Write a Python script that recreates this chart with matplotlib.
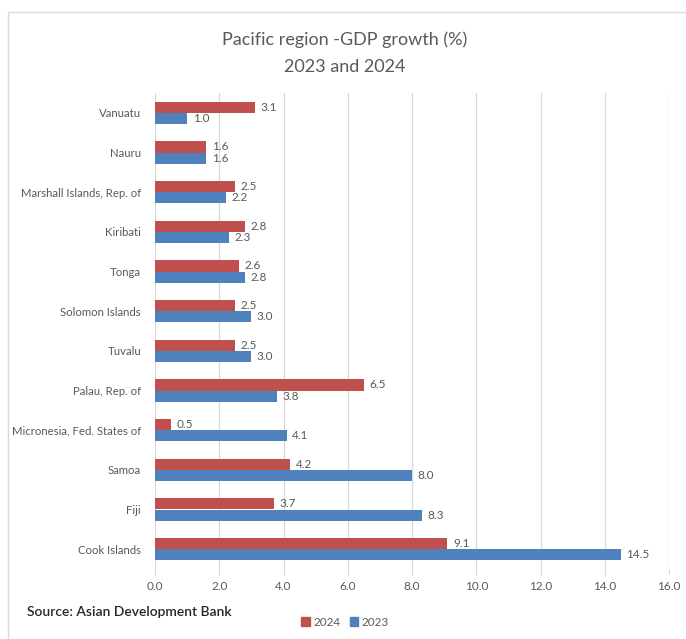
import matplotlib
matplotlib.use("Agg")
import matplotlib.pyplot as plt
from matplotlib.patches import Rectangle, Patch
import numpy as np

plt.rcParams['font.family'] = ['Lato', 'DejaVu Sans']

countries = ["Vanuatu", "Nauru", "Marshall Islands, Rep. of", "Kiribati", "Tonga",
             "Solomon Islands", "Tuvalu", "Palau, Rep. of", "Micronesia, Fed. States of",
             "Samoa", "Fiji", "Cook Islands"]
gdp_2024 = [3.1, 1.6, 2.5, 2.8, 2.6, 2.5, 2.5, 6.5, 0.5, 4.2, 3.7, 9.1]
gdp_2023 = [1.0, 1.6, 2.2, 2.3, 2.8, 3.0, 3.0, 3.8, 4.1, 8.0, 8.3, 14.5]
x_ticks = [0, 2, 4, 6, 8, 10, 12, 14, 16]

red = "#C0504D"
blue = "#4F81BD"
gray = "#595959"

fig = plt.figure(figsize=(6.86, 6.39), dpi=100)
fig.patches.append(Rectangle((8/686, -0.05), 1.2, 1 - 12/639 + 0.05, transform=fig.transFigure,
                             fill=False, edgecolor="#D9D9D9", linewidth=1.0))

ax = fig.add_axes([155/686, 1 - 569/639, (669 - 155)/686, (569 - 93)/639])
y = np.arange(len(countries))
h = 0.28
b1 = ax.barh(y - h/2, gdp_2024, height=h, color=red, label="2024")
b2 = ax.barh(y + h/2, gdp_2023, height=h, color=blue, label="2023")
ax.set_ylim(len(countries) - 0.5, -0.5)
ax.set_xlim(0, 16)
ax.set_xticks(x_ticks)
ax.set_xticklabels([f"{v:.1f}" for v in x_ticks], fontsize=8.5, color=gray)
ax.set_yticks(y)
ax.set_yticklabels(countries, fontsize=8.2, color=gray)
ax.tick_params(axis='y', length=0, pad=10)
ax.tick_params(axis='x', length=4, color="#D9D9D9", pad=5)
ax.grid(axis='x', color="#D9D9D9", linewidth=0.9)
ax.set_axisbelow(True)
for s in ax.spines.values():
    s.set_visible(False)

ax.bar_label(b1, labels=[f"{v:.1f}" for v in gdp_2024], padding=4, fontsize=8.5, color=gray)
ax.bar_label(b2, labels=[f"{v:.1f}" for v in gdp_2023], padding=4, fontsize=8.5, color=gray)

fig.text(345/686, 1 - 40/639, "Pacific region -GDP growth (%)", ha='center', va='center',
         fontsize=13, color=gray)
fig.text(345/686, 1 - 67/639, "2023 and 2024", ha='center', va='center',
         fontsize=13, color=gray)
fig.text(27/686, 1 - 612/639, "Source: Asian Development Bank", ha='left', va='center',
         fontsize=10, color="#262626", fontweight='semibold')

handles = [Patch(color=red, label="2024"), Patch(color=blue, label="2023")]
fig.legend(handles=handles, loc='center', bbox_to_anchor=(345/686, 1 - 622/639), ncol=2,
           frameon=False, fontsize=8.5, handlelength=0.7, handleheight=0.7,
           handletextpad=0.3, columnspacing=0.8, labelcolor=gray)

fig.savefig("out.png", dpi=100)
